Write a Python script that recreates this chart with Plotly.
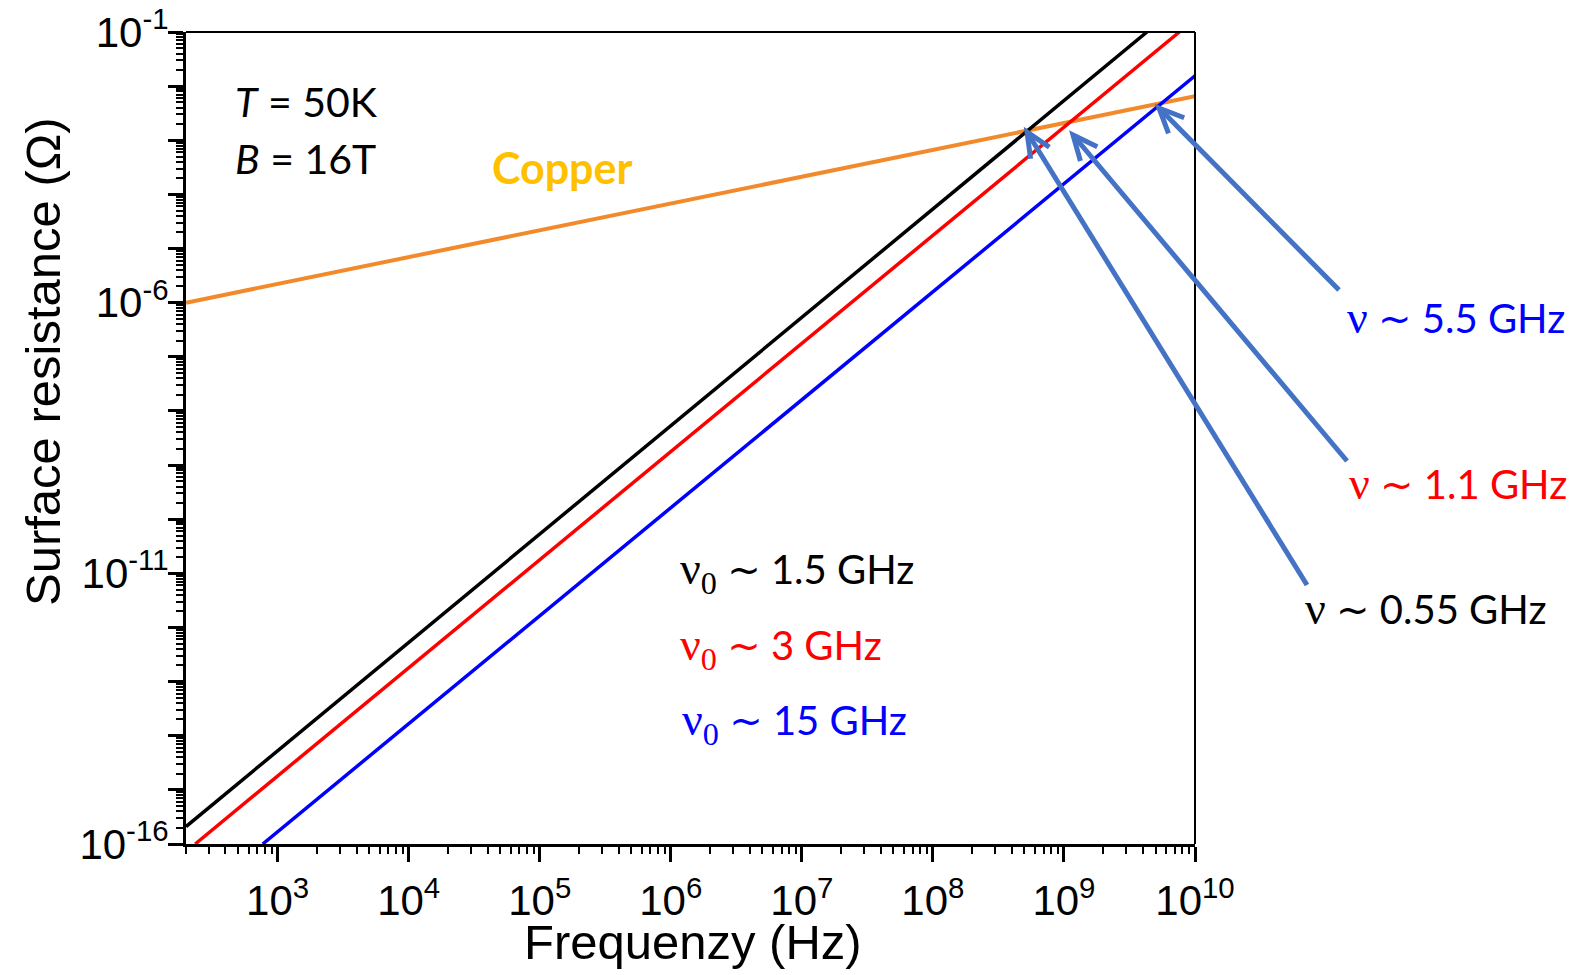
import math
import plotly.graph_objects as go

# ---- data (straight lines on log-log -> two endpoints each) ----
black_x = [200, 4.3e9]
black_y = [2.1e-16, 1e-1]
red_x = [235, 7.6e9]
red_y = [1e-16, 1e-1]
blue_x = [7.7e2, 1e10]
blue_y = [1e-16, 1.55e-2]
copper_x = [200, 1e10]
copper_y = [1e-6, 6.5e-3]

x_major = [1e3, 1e4, 1e5, 1e6, 1e7, 1e8, 1e9, 1e10]
x_labels = ["10<sup>3</sup>", "10<sup>4</sup>", "10<sup>5</sup>", "10<sup>6</sup>",
            "10<sup>7</sup>", "10<sup>8</sup>", "10<sup>9</sup>", "10<sup>10</sup>"]
y_major_exp = list(range(-16, 0))
y_label_exp = [-16, -11, -6, -1]

W, H = 1593, 975
L, R, T, B = 186, 1195, 32, 844


def px(xp):
    return (xp - L) / (R - L)


def py(yp):
    return (B - yp) / (B - T)


x_minor = [m * 10 ** e for e in range(2, 10) for m in range(2, 10) if 200 <= m * 10 ** e <= 1e10]
y_minor = [m * 10.0 ** e for e in range(-16, -1) for m in range(2, 10)]
y_major = [10.0 ** e for e in y_major_exp]
y_text = [("10<sup>%d</sup>" % e) if e in y_label_exp else "" for e in y_major_exp]

fig = go.Figure()
fig.add_trace(go.Scatter(x=copper_x, y=copper_y, mode="lines",
                         line=dict(color="#F28A2C", width=4), showlegend=False))
fig.add_trace(go.Scatter(x=black_x, y=black_y, mode="lines",
                         line=dict(color="black", width=3.5), showlegend=False))
fig.add_trace(go.Scatter(x=red_x, y=red_y, mode="lines",
                         line=dict(color="#FF0000", width=3.5), showlegend=False))
fig.add_trace(go.Scatter(x=blue_x, y=blue_y, mode="lines",
                         line=dict(color="#0000FF", width=3.5), showlegend=False))

tickfont = dict(family="Liberation Sans, Arial", size=42, color="black")

fig.update_xaxes(type="log", range=[2.30103, 10], showline=True, linewidth=3, linecolor="black",
                 mirror=False, showgrid=False, zeroline=False, automargin=False,
                 tickmode="array", tickvals=x_major, ticktext=x_labels,
                 ticks="outside", ticklen=15, tickwidth=3, tickcolor="black",
                 tickfont=tickfont, ticklabelstandoff=3,
                 minor=dict(tickmode="array", tickvals=x_minor, ticks="outside",
                            ticklen=7, tickwidth=2, tickcolor="black", showgrid=False))
fig.update_yaxes(type="log", range=[-16, -1], showline=True, linewidth=3, linecolor="black",
                 mirror=False, showgrid=False, zeroline=False, automargin=False,
                 tickmode="array", tickvals=y_major, ticktext=y_text,
                 ticks="outside", ticklen=15, tickwidth=3, tickcolor="black",
                 tickfont=tickfont, ticklabelstandoff=-9,
                 minor=dict(tickmode="array", tickvals=y_minor, ticks="outside",
                            ticklen=7, tickwidth=2, tickcolor="black", showgrid=False))

shapes = [
    dict(type="line", xref="paper", yref="paper", x0=0, x1=1, y0=1, y1=1,
         line=dict(color="black", width=2)),
    dict(type="line", xref="paper", yref="paper", x0=1, x1=1, y0=0, y1=1,
         line=dict(color="black", width=2)),
]

# arrows (tip, tail) in pixels
arrows = [((1027, 132), (1307, 585)), ((1073, 135), (1347, 461)), ((1159, 108), (1339, 290))]
acol = "#4472C4"
for (tx, ty), (sx, sy) in arrows:
    shapes.append(dict(type="line", xref="paper", yref="paper",
                       x0=px(sx), y0=py(sy), x1=px(tx), y1=py(ty),
                       line=dict(color=acol, width=5)))
    ang = math.atan2(sy - ty, sx - tx)
    alen = 27
    pts = []
    for d in (-0.42, 0.42):
        pts.append((tx + alen * math.cos(ang + d), ty + alen * math.sin(ang + d)))
    path = "M %f,%f L %f,%f L %f,%f" % (px(pts[0][0]), py(pts[0][1]), px(tx), py(ty),
                                          px(pts[1][0]), py(pts[1][1]))
    shapes.append(dict(type="path", xref="paper", yref="paper", path=path,
                       line=dict(color=acol, width=5)))

fig.update_layout(shapes=shapes)

sans = "Lato, Carlito, Calibri, sans-serif"
serif = "Liberation Serif, Times New Roman, serif"


def nu(sub=False, size=46):
    s = '<span style="font-family:%s;font-size:%dpx">ν' % (serif, size)
    if sub:
        s += '<sub>0</sub>'
    return s + '</span>'


TILDE = '<span style="font-family:DejaVu Sans">~</span>'

annots = [
    # (text, x_left_px, y_center_px, size, color)
    ("<i>T</i> = 50K", 233, 101, 41, "black"),
    ("<i>B</i> = 16T", 233, 158, 41, "black"),
    ("<b>Copper</b>", 490, 167, 43, "#FFC000"),
    (nu(True) + " " + TILDE + " 1.5 GHz", 678, 572, 40, "black"),
    (nu(True) + " " + TILDE + " 3 GHz", 678, 648, 40, "#FF0000"),
    (nu(True) + " " + TILDE + " 15 GHz", 680, 723, 40, "#0000FF"),
    (nu() + " " + TILDE + " 5.5 GHz", 1345, 317, 40, "#0000FF"),
    (nu() + " " + TILDE + " 1.1 GHz", 1347, 483, 40, "#FF0000"),
    (nu() + " " + TILDE + " 0.55 GHz", 1303, 608, 40, "black"),
]
annotations = []
for text, xl, yc, size, col in annots:
    annotations.append(dict(text=text, xref="paper", yref="paper", x=px(xl), y=py(yc),
                            xanchor="left", yanchor="middle", showarrow=False,
                            font=dict(family=sans, size=size, color=col)))

titlefont = dict(family="Liberation Sans, Arial", size=49, color="black")
annotations.append(dict(text="Frequenzy (Hz)", xref="paper", yref="paper",
                        x=px(693), y=py(942), xanchor="center", yanchor="middle",
                        showarrow=False, font=titlefont))
annotations.append(dict(text="Surface resistance (Ω)", xref="paper", yref="paper",
                        x=px(43), y=py(362), xanchor="center", yanchor="middle",
                        textangle=-90, showarrow=False, font=titlefont))

fig.update_layout(annotations=annotations, width=W, height=H,
                  margin=dict(l=L, r=W - R, t=T, b=H - B, autoexpand=False),
                  plot_bgcolor="white", paper_bgcolor="white")

fig.write_html("out.html", config={"displayModeBar": False},
               post_script="document.body.style.margin='0';document.body.style.padding='0';")
